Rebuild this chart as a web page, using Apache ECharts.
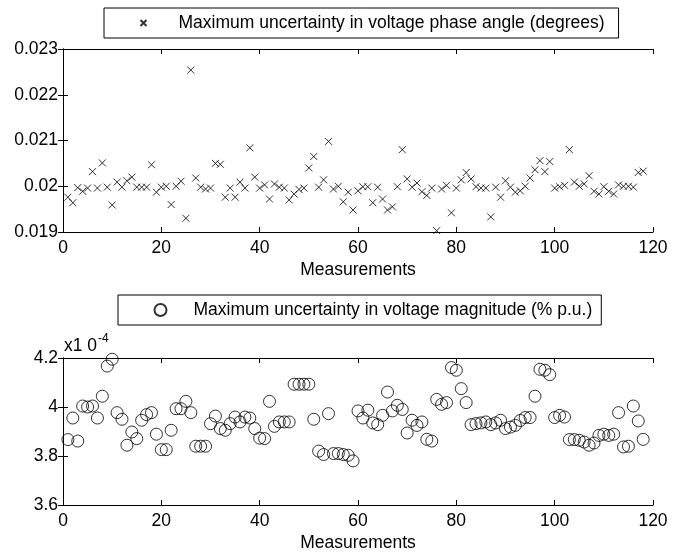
<!DOCTYPE html>
<html lang="en">
<head>
    <meta charset="UTF-8">
    <title>Maximum uncertainty</title>
    <style>
        html, body { margin: 0; padding: 0; background: #fff; }
    </style>
</head>
<body>
<div id="main" style="width: 683px;height:554px;"></div>
<script type="text/javascript" src="https://cdn.jsdelivr.net/npm/echarts@6/dist/echarts.min.js"></script>
<script type="text/javascript">

    // measurement index 1..118
    var measurements = [];
    for (var i = 1; i <= 118; i++) measurements.push(i);

    // top panel: phase angle uncertainty (degrees)
    var phaseAngle = [
        0.01976, 0.01964, 0.01997, 0.01989, 0.01996, 0.02032, 0.01996, 0.02051, 0.01998, 0.01959,
        0.02009, 0.01998, 0.02012, 0.02020, 0.01998, 0.01998, 0.01998, 0.02047, 0.01987, 0.01998,
        0.02000, 0.01960, 0.02000, 0.02011, 0.01930, 0.02254, 0.02018, 0.01998, 0.01994, 0.01996,
        0.02050, 0.02048, 0.01976, 0.01996, 0.01976, 0.02009, 0.01996, 0.02084, 0.02020, 0.01996,
        0.02003, 0.01972, 0.02005, 0.01998, 0.01996, 0.01970, 0.01983, 0.01993, 0.01996, 0.02040,
        0.02065, 0.01998, 0.02014, 0.02098, 0.01994, 0.02000, 0.01966, 0.01987, 0.01948, 0.01990,
        0.01999, 0.01999, 0.01964, 0.01998, 0.01972, 0.01948, 0.01955, 0.01999, 0.02080, 0.02016,
        0.01998, 0.02007, 0.01988, 0.01980, 0.01996, 0.01903, 0.01994, 0.02002, 0.01942, 0.01996,
        0.02014, 0.02030, 0.02016, 0.01999, 0.01996, 0.01996, 0.01933, 0.01998, 0.01976, 0.02012,
        0.01998, 0.01987, 0.01990, 0.02000, 0.02018, 0.02036, 0.02056, 0.02032, 0.02054, 0.01996,
        0.01999, 0.02002, 0.02080, 0.02009, 0.02000, 0.02005, 0.02023, 0.01989, 0.01983, 0.01999,
        0.01989, 0.01983, 0.02003, 0.02000, 0.02000, 0.01998, 0.02030, 0.02033
    ];

    // bottom panel: voltage magnitude uncertainty (x1e-4 % p.u.)
    var magnitude = [
        3.867, 3.955, 3.861, 4.004, 4.000, 4.004, 3.955, 4.044, 4.167, 4.195,
        3.977, 3.950, 3.844, 3.898, 3.871, 3.946, 3.969, 3.977, 3.889, 3.826,
        3.826, 3.905, 3.993, 3.993, 4.023, 3.977, 3.840, 3.840, 3.840, 3.932,
        3.963, 3.912, 3.905, 3.932, 3.959, 3.939, 3.959, 3.955, 3.912, 3.873,
        3.871, 4.023, 3.921, 3.939, 3.939, 3.939, 4.093, 4.093, 4.093, 4.093,
        3.950, 3.820, 3.806, 3.973, 3.810, 3.810, 3.806, 3.803, 3.780, 3.984,
        3.955, 3.987, 3.935, 3.928, 3.966, 4.061, 3.984, 4.007, 3.990, 3.894,
        3.946, 3.925, 3.939, 3.868, 3.861, 4.031, 4.011, 4.018, 4.161, 4.150,
        4.075, 4.018, 3.928, 3.932, 3.935, 3.939, 3.928, 3.935, 3.946, 3.912,
        3.918, 3.925, 3.945, 3.957, 3.957, 4.044, 4.154, 4.150, 4.132, 3.957,
        3.966, 3.959, 3.867, 3.867, 3.864, 3.857, 3.844, 3.853, 3.884, 3.889,
        3.884, 3.889, 3.977, 3.837, 3.840, 4.004, 3.943, 3.868
    ];

    var xTicks = [0, 20, 40, 60, 80, 100, 120];
    var phaseTicks = [0.019, 0.020, 0.021, 0.022, 0.023];
    var magTicks = [3.6, 3.8, 4.0, 4.2];

    var phaseName = 'Maximum uncertainty in voltage phase angle (degrees)';
    var magName = 'Maximum uncertainty in voltage magnitude (% p.u.)';

    var FONT = 'Liberation Sans, Arial, Helvetica, sans-serif';
    var FS = 17.5;
    var crossPath = 'path://M0,0L10,10M10,0L0,10';

    function pairs(ys) {
        return ys.map(function (v, k) { return [measurements[k], v]; });
    }

    // bottom/left axes carry labels, top/right only show the box and inner ticks
    function xAxes(grid) {
        return [{
            gridIndex: grid, type: 'value', position: 'bottom',
            min: xTicks[0], max: xTicks[xTicks.length - 1], interval: 20,
            name: 'Measurements', nameLocation: 'middle', nameGap: 29,
            nameTextStyle: { fontFamily: FONT, fontSize: FS, color: '#000' },
            axisLine: { lineStyle: { color: '#000', width: 1 } },
            axisTick: { inside: true, length: 5, lineStyle: { color: '#000' } },
            axisLabel: { fontFamily: FONT, fontSize: FS, color: '#000', margin: 7 },
            splitLine: { show: false }
        }, {
            gridIndex: grid, type: 'value', position: 'top',
            min: 0, max: 120, interval: 20,
            axisLine: { lineStyle: { color: '#000', width: 1 } },
            axisTick: { inside: true, length: 5, lineStyle: { color: '#000' } },
            axisLabel: { show: false },
            splitLine: { show: false }
        }];
    }

    function yAxes(grid, ticks, step, digits) {
        var lab = function (v) { return String(+v.toFixed(digits)); };
        return [{
            gridIndex: grid, type: 'value', position: 'left',
            min: ticks[0], max: ticks[ticks.length - 1], interval: step,
            axisLine: { show: true, lineStyle: { color: '#000', width: 1 } },
            axisTick: { show: true, inside: true, length: 5, lineStyle: { color: '#000' } },
            axisLabel: { fontFamily: FONT, fontSize: FS, color: '#000', margin: 5, formatter: lab },
            splitLine: { show: false }
        }, {
            gridIndex: grid, type: 'value', position: 'right',
            min: ticks[0], max: ticks[ticks.length - 1], interval: step,
            axisLine: { show: true, lineStyle: { color: '#000', width: 1 } },
            axisTick: { show: true, inside: true, length: 5, lineStyle: { color: '#000' } },
            axisLabel: { show: false },
            splitLine: { show: false }
        }];
    }

    var myChart = echarts.init(document.getElementById('main'), null, { renderer: 'canvas' });

    myChart.setOption({
        animation: false,
        backgroundColor: '#fff',
        grid: [
            { left: 63, right: 30, top: 49, height: 183 },
            { left: 63, right: 30, top: 358, height: 147 }
        ],
        xAxis: xAxes(0).concat(xAxes(1)),
        yAxis: yAxes(0, phaseTicks, 0.001, 3).concat(yAxes(1, magTicks, 0.2, 1)),
        legend: [{
            data: [phaseName],
            left: 104, top: 8,
            orient: 'horizontal',
            borderColor: '#000', borderWidth: 1,
            padding: [6, 14, 6, 34],
            itemWidth: 6, itemHeight: 6, itemGap: 0,
            textStyle: { fontFamily: FONT, fontSize: FS, color: '#000', padding: [0, 0, 0, 27] }
        }, {
            data: [magName],
            left: 118, top: 295,
            orient: 'horizontal',
            borderColor: '#000', borderWidth: 1,
            padding: [6, 9, 6, 34],
            itemWidth: 12, itemHeight: 12, itemGap: 0,
            textStyle: { fontFamily: FONT, fontSize: FS, color: '#000', padding: [0, 0, 0, 22] }
        }],
        graphic: [{
            type: 'text',
            left: 64, top: 333,
            style: {
                text: '{a|x1 0}{b|-4}',
                rich: {
                    a: { fontFamily: FONT, fontSize: FS, fill: '#000', verticalAlign: 'bottom' },
                    b: { fontFamily: FONT, fontSize: 12, fill: '#000', verticalAlign: 'top', padding: [0, 0, 10, 1] }
                }
            }
        }],
        series: [{
            name: phaseName,
            type: 'scatter',
            xAxisIndex: 0, yAxisIndex: 0,
            symbol: crossPath,
            symbolSize: 7,
            itemStyle: { color: 'none', borderColor: '#000', borderWidth: 1 },
            data: pairs(phaseAngle)
        }, {
            name: magName,
            type: 'scatter',
            xAxisIndex: 2, yAxisIndex: 2,
            symbol: 'circle',
            symbolSize: 12,
            itemStyle: { color: 'none', borderColor: '#000', borderWidth: 1 },
            data: pairs(magnitude)
        }]
    });
</script>
</body>
</html>
